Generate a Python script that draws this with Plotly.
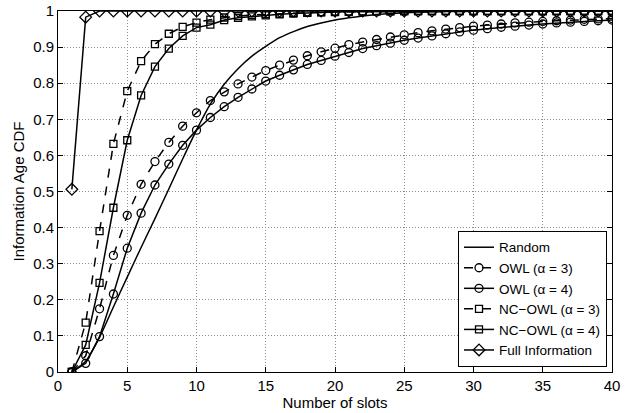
import plotly.graph_objects as go

slots = list(range(1, 41))

random_cdf = [0, 0.03, 0.096, 0.18, 0.263, 0.345, 0.425, 0.507, 0.59, 0.67,
              0.742, 0.797, 0.84, 0.875, 0.902, 0.926, 0.943, 0.957, 0.967, 0.975,
              0.981, 0.986, 0.99, 0.993, 0.995, 0.997, 0.998, 0.999] + [1.0] * 12

owl3 = [0, 0.045, 0.175, 0.323, 0.434, 0.52, 0.583, 0.636, 0.681, 0.718,
        0.752, 0.776, 0.798, 0.817, 0.835, 0.850, 0.864, 0.876, 0.887, 0.897,
        0.907, 0.914, 0.921, 0.928, 0.934, 0.940, 0.945, 0.950, 0.954, 0.958,
        0.961, 0.964, 0.967, 0.969, 0.971, 0.973, 0.975, 0.977, 0.978, 0.979]

owl4 = [0, 0.024, 0.098, 0.216, 0.343, 0.44, 0.518, 0.576, 0.628, 0.670,
        0.705, 0.735, 0.761, 0.784, 0.806, 0.822, 0.837, 0.852, 0.863, 0.875,
        0.885, 0.896, 0.904, 0.911, 0.919, 0.925, 0.931, 0.937, 0.942, 0.947,
        0.951, 0.955, 0.958, 0.961, 0.964, 0.967, 0.969, 0.971, 0.973, 0.975]

ncowl3 = [0, 0.137, 0.39, 0.632, 0.778, 0.861, 0.908, 0.937, 0.956, 0.968,
          0.976, 0.982, 0.986, 0.989, 0.991, 0.993, 0.995, 0.996, 0.997, 0.998,
          0.998, 0.999, 0.999] + [1.0] * 17

ncowl4 = [0, 0.075, 0.247, 0.455, 0.642, 0.766, 0.846, 0.896, 0.931, 0.954,
          0.962, 0.975, 0.981, 0.985, 0.988, 0.991, 0.993, 0.995, 0.996, 0.997,
          0.998, 0.998, 0.999, 0.999] + [1.0] * 16

full_info = [0.506, 0.983] + [1.0] * 38

FONT = "Liberation Sans"

fig = go.Figure()

def add(name, y, dash, symbol, size=8, markers=True, shape="linear"):
    fig.add_trace(go.Scatter(
        x=slots, y=y, name=name,
        mode="lines+markers" if markers else "lines",
        line=dict(color="black", width=1.5, dash=dash, shape=shape,
                  smoothing=0.6 if shape == "spline" else None),
        marker=dict(symbol=symbol, size=size, color="black",
                    line=dict(color="black", width=1.3)),
    ))

add("Random", random_cdf, "solid", "circle", markers=False, shape="spline")
add("OWL (α = 3)", owl3, "dash", "circle-open")
add("OWL (α = 4)", owl4, "solid", "circle-open")
add("NC\u2212OWL (α = 3)", ncowl3, "dash", "square-open", size=7)
add("NC\u2212OWL (α = 4)", ncowl4, "solid", "square-open", size=7)
add("Full Information", full_info, "solid", "diamond-open", size=9)

axis_common = dict(
    showline=True, linecolor="black", linewidth=1, mirror="ticks",
    ticks="inside", ticklen=5, tickcolor="black",
    showgrid=True, gridcolor="#8c8c8c", griddash="1px,2px", gridwidth=1,
    zeroline=False, automargin=False,
    tickfont=dict(family=FONT, size=15, color="black"),
)

fig.update_xaxes(range=[0, 40], dtick=5, tick0=0,
                 title=dict(text="Number of slots", standoff=0,
                            font=dict(family=FONT, size=15, color="black")),
                 **axis_common)
fig.update_yaxes(range=[0, 1], dtick=0.1, tick0=0,
                 title=dict(text="Information Age CDF", standoff=4,
                            font=dict(family=FONT, size=15, color="black")),
                 **axis_common)

fig.update_layout(
    width=626, height=413,
    margin=dict(l=58, r=14, t=11, b=41, autoexpand=False),
    plot_bgcolor="white", paper_bgcolor="white",
    font=dict(family=FONT, size=15, color="black"),
    showlegend=True,
    legend=dict(x=0.991, y=0.014, xanchor="right", yanchor="bottom",
                bgcolor="white", bordercolor="black", borderwidth=1,
                font=dict(family=FONT, size=13.5, color="black"),
                tracegroupgap=0, itemwidth=30),
)

fig.write_html("out.html")
